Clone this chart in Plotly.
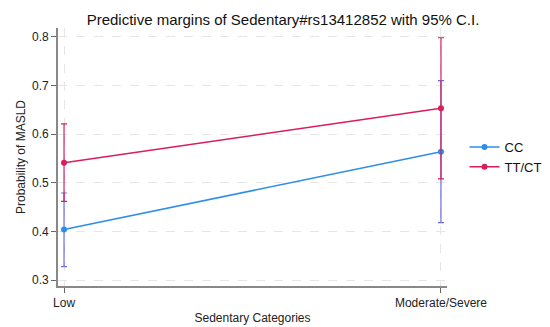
import plotly.graph_objects as go

categories = ["Low", "Moderate/Severe"]
cc_margin = [0.404, 0.564]
cc_lower = [0.328, 0.418]
cc_upper = [0.479, 0.710]
tt_margin = [0.541, 0.653]
tt_lower = [0.462, 0.508]
tt_upper = [0.621, 0.798]
y_ticks = [0.3, 0.4, 0.5, 0.6, 0.7, 0.8]

x_pos = list(range(len(categories)))

fig = go.Figure()

def add_series(name, m, lo, hi, line_color, err_color):
    fig.add_trace(go.Scatter(
        x=x_pos, y=m, name=name, mode="lines+markers",
        line=dict(color=line_color, width=1.5),
        marker=dict(color=line_color, size=6),
        error_y=dict(type="data", symmetric=False,
                     array=[h - v for h, v in zip(hi, m)],
                     arrayminus=[v - l for v, l in zip(m, lo)],
                     color=err_color, thickness=1.2, width=3),
    ))

add_series("CC", cc_margin, cc_lower, cc_upper, "#2e8ee6", "#6b6be0")
add_series("TT/CT", tt_margin, tt_lower, tt_upper, "#d81e5b", "#d81e5b")

fig.update_layout(
    width=550, height=327,
    margin=dict(l=48, r=107, t=20, b=42),
    paper_bgcolor="white", plot_bgcolor="white",
    font=dict(family="Liberation Sans, Arial, sans-serif", size=12, color="#222"),
    title=dict(text="Predictive margins of Sedentary#rs13412852 with 95% C.I.",
               x=0.5, xanchor="center", y=0.965, yanchor="middle",
               font=dict(size=15, color="#111")),
    showlegend=True,
    legend=dict(x=1.045, y=0.5, xanchor="left", yanchor="middle",
                font=dict(size=13, color="#111"), bgcolor="rgba(0,0,0,0)",
                tracegroupgap=0),
)
fig.update_xaxes(
    tickmode="array", tickvals=x_pos, ticktext=categories,
    range=[-0.016, 1.016],
    showline=True, linecolor="#888", linewidth=1.8,
    ticks="outside", ticklen=5, tickcolor="#666",
    showgrid=True, gridcolor="#e6e6e6", griddash="dash", gridwidth=1,
    zeroline=False,
    tickfont=dict(size=12, color="#222"),
    title=dict(text="Sedentary Categories", font=dict(size=12, color="#222"), standoff=4),
)
fig.update_yaxes(
    tickmode="array", tickvals=y_ticks, ticktext=[f"{v:.1f}" for v in y_ticks],
    range=[0.288, 0.818],
    showline=True, linecolor="#888", linewidth=1.8,
    ticks="outside", ticklen=5, tickcolor="#666",
    showgrid=True, gridcolor="#e6e6e6", griddash="dash", gridwidth=1,
    zeroline=False,
    tickfont=dict(size=12, color="#222"),
    title=dict(text="Probability of MASLD", font=dict(size=12, color="#222"), standoff=4),
)

fig.write_html("out.html")
